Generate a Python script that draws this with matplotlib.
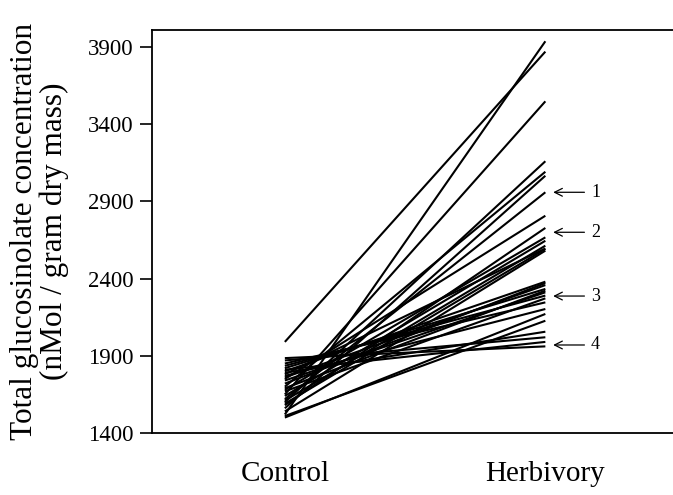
import matplotlib
matplotlib.use("Agg")
import matplotlib.pyplot as plt

categories = ["Control", "Herbivory"]
control = [1990, 1520, 1650, 1600, 1700, 1560, 1620, 1750, 1580, 1680,
           1640, 1610, 1780, 1590, 1540, 1800, 1720, 1760, 1820, 1690,
           1740, 1835, 1670, 1850, 1770, 1500, 1510, 1790, 1870, 1885, 1810]
herbivory = [3870, 3937, 3548, 3160, 3092, 3066, 2959, 2807, 2728, 2667,
             2645, 2613, 2595, 2592, 2581, 2380, 2371, 2358, 2333, 2322,
             2311, 2290, 2272, 2246, 2203, 2171, 2127, 2056, 2020, 1961, 1990]
yticks = [1400, 1900, 2400, 2900, 3400, 3900]
marker_labels = ["1", "2", "3", "4"]
marker_values = [2959, 2700, 2287, 1970]

plt.rcParams['font.family'] = ['Liberation Serif', 'DejaVu Serif']

fig = plt.figure(figsize=(6.73, 4.95), dpi=100)
ax = fig.add_axes([152/673, 62/495, 521/673, 403/495])

xs = [1, 2]
for c, h in zip(control, herbivory):
    ax.plot(xs, [c, h], color='black', lw=1.5, solid_capstyle='butt')

ax.set_xlim(0.49, 2.49)
ax.set_ylim(1400, 4010)
ax.set_yticks(yticks)
ax.set_yticklabels([str(t) for t in yticks], fontsize=16.5)
ax.set_xticks(xs)
ax.set_xticklabels(categories, fontsize=21)
ax.tick_params(axis='x', length=0, pad=20)
ax.tick_params(axis='y', length=9, width=1.2, direction='out', pad=4)
ax.spines['right'].set_visible(False)
for s in ['left', 'top', 'bottom']:
    ax.spines[s].set_linewidth(1.3)

ax.set_ylabel("Total glucosinolate concentration\n(nMol / gram dry mass)",
              fontsize=22.5, linespacing=1.0, labelpad=14)

for lab, v in zip(marker_labels, marker_values):
    ax.annotate("", xy=(2.03, v), xytext=(2.15, v),
                arrowprops=dict(arrowstyle='->', color='black', lw=0.9,
                                mutation_scale=14, shrinkA=0, shrinkB=0))
    ax.text(2.175, v, lab, fontsize=13, va='center', ha='left')

fig.savefig("out.png", dpi=100)
